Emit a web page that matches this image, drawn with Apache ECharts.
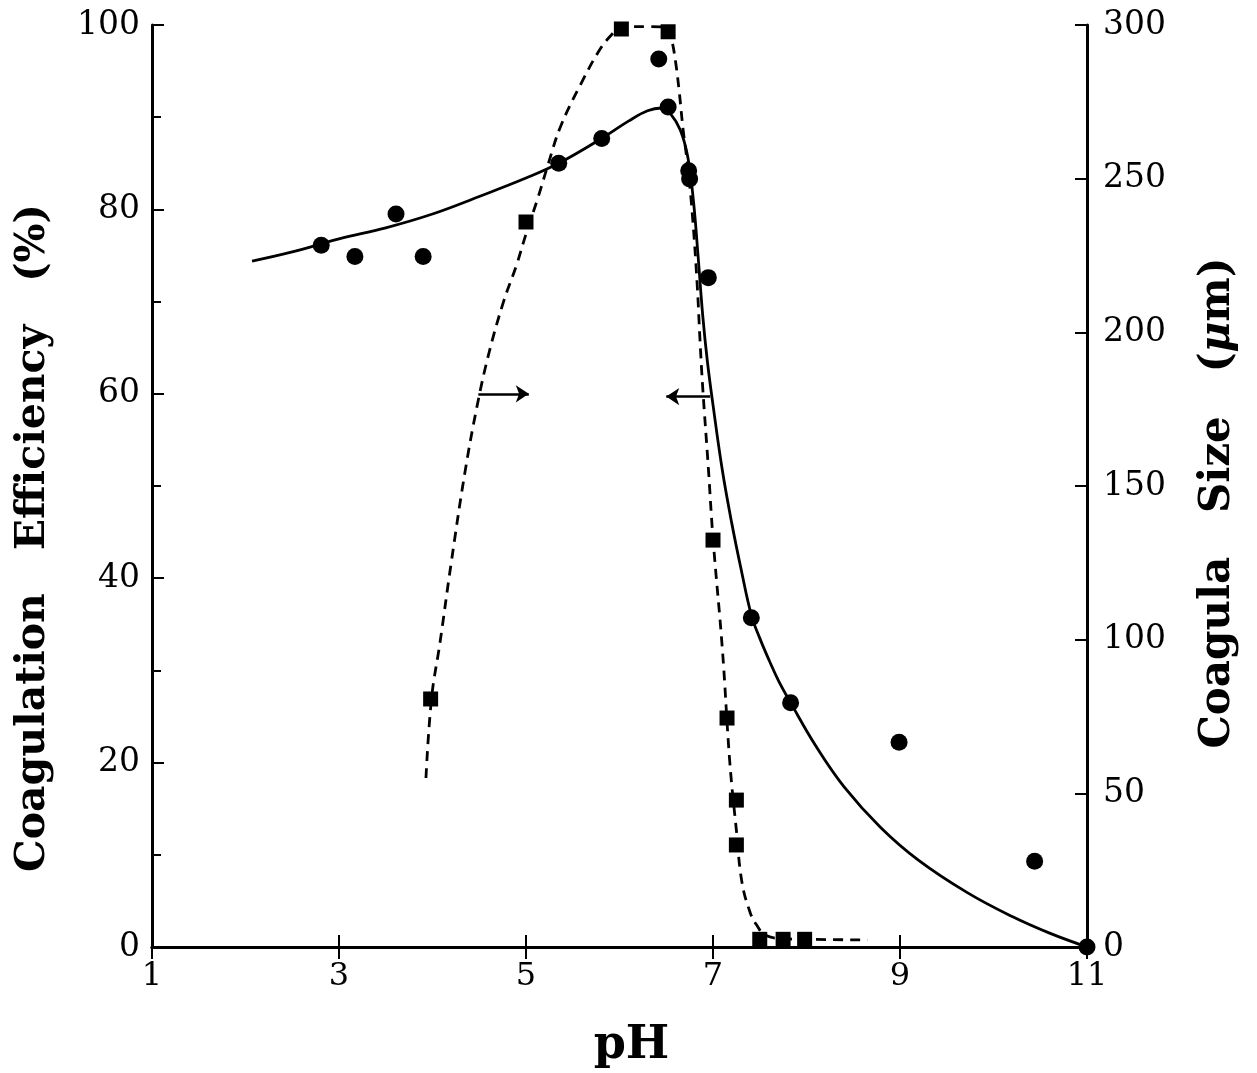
<!DOCTYPE html>
<html>
<head>
<meta charset="utf-8">
<script src="https://cdn.jsdelivr.net/npm/echarts@6/dist/echarts.min.js"></script>
<style>
html,body{margin:0;padding:0;background:#fff;}
#chart{width:1257px;height:1073px;}
</style>
</head>
<body>
<div id="chart"></div>
<script>
// Measured points: coagulation efficiency (%) vs pH (circles)
const circlePH  = [2.81, 3.17, 3.61, 3.90, 5.35, 5.81, 6.42, 6.52, 6.74, 6.75, 6.95, 7.41, 7.83, 8.99, 10.44, 11.0];
const circleEff = [76.1, 74.9, 79.5, 74.9, 85.0, 87.7, 96.3, 91.1, 84.2, 83.3, 72.6, 35.7, 26.5, 22.2, 9.3, 0];

// Measured points: coagula size (um) vs pH (squares)
const squarePH   = [3.98, 5.00, 6.02, 6.52, 7.00, 7.15, 7.25, 7.25, 7.50, 7.75, 7.98];
const squareSize = [80.7, 235.9, 298.7, 297.8, 132.4, 74.5, 47.8, 33.2, 2.5, 2.5, 2.5];

// Fitted curve (solid): efficiency
const solidPH  = [2.07, 2.5, 3.0, 3.5, 4.0, 4.5, 5.0, 5.35, 5.81, 6.1, 6.3, 6.45, 6.55, 6.65, 6.73, 6.79, 6.84, 6.89, 6.94, 7.0, 7.1, 7.2, 7.3, 7.41, 7.5, 7.6, 7.7, 7.83, 8.1, 8.4, 8.79, 9.2, 9.72, 10.2, 10.6, 11.0];
const solidEff = [74.4, 75.4, 76.8, 78.0, 79.5, 81.4, 83.4, 85.0, 87.7, 89.6, 90.7, 91.0, 90.3, 88.6, 85.7, 81.0, 75.0, 68.5, 63.5, 58.8, 51.7, 46.0, 41.0, 36.0, 33.5, 31.1, 28.9, 26.5, 21.8, 17.4, 13.0, 9.4, 5.9, 3.3, 1.5, 0];

// Fitted curve (dashed): coagula size
const dashPH   = [3.93, 3.99, 4.08, 4.2, 4.35, 4.49, 4.61, 4.76, 4.90, 5.0, 5.13, 5.24, 5.37, 5.59, 5.79, 5.92, 6.02, 6.3, 6.52, 6.56, 6.60, 6.64, 6.68, 6.73, 6.78, 6.83, 6.86, 6.89, 6.95, 7.0, 7.1, 7.18, 7.25, 7.31, 7.4, 7.47, 7.55, 7.7, 8.0, 8.65];
const dashSize = [55, 81, 99, 125, 155, 178, 194, 210, 222, 232, 244, 255, 267, 281, 292, 297, 299.5, 299.5, 299, 295, 288, 278, 266, 254, 238, 216, 198, 182, 156, 133, 97, 60, 38, 21, 11, 7, 4, 2.8, 2.5, 2.3];

// Arrow annotations [x0, y0(%), x1, y1(%)]
const arrowRight = [4.49, 60, 5.03, 60];
const arrowLeft  = [6.97, 59.7, 6.50, 59.7];

// Tick values
const xTicks = {min: 1, max: 11, interval: 2};
const yLeftTicks = {min: 0, max: 100, interval: 20};
const yRightTicks = {min: 0, max: 300, interval: 50};

const zip = (a, b) => a.map((v, i) => [v, b[i]]);
const FONT = 'DejaVu Serif';

const chart = echarts.init(document.getElementById('chart'), null, {renderer: 'canvas'});
const axisLineStyle = {color: '#000', width: 3};
const tickStyle = {color: '#000', width: 2};

chart.setOption({
  backgroundColor: '#fff',
  animation: false,
  grid: {left: 152, right: 170, top: 25, bottom: 126, containLabel: false, outerBoundsMode: 'none'},
  xAxis: [
    {
      type: 'value', position: 'bottom', min: xTicks.min, max: xTicks.max, interval: xTicks.interval,
      axisLine: {show: true, lineStyle: axisLineStyle},
      axisTick: {show: true, inside: true, length: 12, lineStyle: tickStyle},
      axisLabel: {color: '#000', fontFamily: FONT, fontSize: 32, margin: 14, showMinLabel: true, showMaxLabel: true},
      splitLine: {show: false},
      name: 'pH', nameLocation: 'middle', nameGap: 76,
      nameTextStyle: {color: '#000', fontFamily: FONT, fontWeight: 'bold', fontSize: 46, padding: [0, 0, 0, 24]}
    },
    {
      type: 'value', position: 'top', min: xTicks.min, max: xTicks.max, interval: xTicks.interval,
      axisLine: {show: true, lineStyle: axisLineStyle},
      axisTick: {show: true, inside: true, length: 12, lineStyle: tickStyle},
      axisLabel: {show: false}, splitLine: {show: false}
    }
  ],
  yAxis: [
    {
      type: 'value', position: 'left', min: yLeftTicks.min, max: yLeftTicks.max, interval: yLeftTicks.interval,
      axisLine: {show: true, lineStyle: axisLineStyle},
      axisTick: {show: true, inside: true, length: 12, lineStyle: tickStyle},
      minorTick: {show: true, splitNumber: 2, length: 9, lineStyle: tickStyle},
      axisLabel: {color: '#000', fontFamily: FONT, fontSize: 33, margin: 12},
      splitLine: {show: false},
      name: 'Coagulation   Efficiency   (%)', nameLocation: 'middle', nameRotate: 90, nameGap: 98,
      nameTextStyle: {color: '#000', fontFamily: FONT, fontWeight: 'bold', fontSize: 41, padding: [0, 104, 0, 0]}
    },
    {
      type: 'value', position: 'right', min: yRightTicks.min, max: yRightTicks.max, interval: yRightTicks.interval,
      axisLine: {show: true, lineStyle: axisLineStyle},
      axisTick: {show: true, inside: true, length: 12, lineStyle: tickStyle},
      axisLabel: {color: '#000', fontFamily: FONT, fontSize: 33, margin: 16},
      splitLine: {show: false},
      name: '{a|Coagula   Size   (}{i|μ}{a|m)}', nameLocation: 'middle', nameRotate: 90, nameGap: 110,
      nameTextStyle: {
        color: '#000', fontFamily: FONT, fontWeight: 'bold', fontSize: 42, padding: [0, 34, 0, 0],
        rich: {
          a: {color: '#000', fontFamily: FONT, fontWeight: 'bold', fontSize: 42},
          i: {color: '#000', fontFamily: FONT, fontWeight: 'bold', fontStyle: 'italic', fontSize: 42}
        }
      }
    }
  ],
  series: [
    {
      name: 'fit-eff', type: 'line', xAxisIndex: 0, yAxisIndex: 0,
      data: zip(solidPH, solidEff), showSymbol: false, symbol: 'none',
      smooth: 0.4,
      lineStyle: {color: '#000', width: 2.8, type: 'solid'}, z: 2
    },
    {
      name: 'fit-size', type: 'line', xAxisIndex: 0, yAxisIndex: 1,
      data: zip(dashPH, dashSize), showSymbol: false, symbol: 'none',
      smooth: 0.4,
      lineStyle: {color: '#000', width: 2.8, type: [10, 7]}, z: 2
    },
    {
      name: 'efficiency', type: 'scatter', xAxisIndex: 0, yAxisIndex: 0,
      data: zip(circlePH, circleEff), symbol: 'circle', symbolSize: 17,
      itemStyle: {color: '#000', opacity: 1}, z: 3
    },
    {
      name: 'size', type: 'scatter', xAxisIndex: 0, yAxisIndex: 1,
      data: zip(squarePH, squareSize), symbol: 'rect', symbolSize: 15,
      itemStyle: {color: '#000', opacity: 1}, z: 3
    },
    {
      name: 'arrows', type: 'lines', coordinateSystem: 'cartesian2d', xAxisIndex: 0, yAxisIndex: 0,
      symbol: ['none', 'arrow'], symbolSize: [0, 13],
      lineStyle: {color: '#000', width: 2.5, opacity: 1},
      data: [
        {coords: [[arrowRight[0], arrowRight[1]], [arrowRight[2], arrowRight[3]]]},
        {coords: [[arrowLeft[0], arrowLeft[1]], [arrowLeft[2], arrowLeft[3]]]}
      ], z: 4
    }
  ]
});
</script>
</body>
</html>
